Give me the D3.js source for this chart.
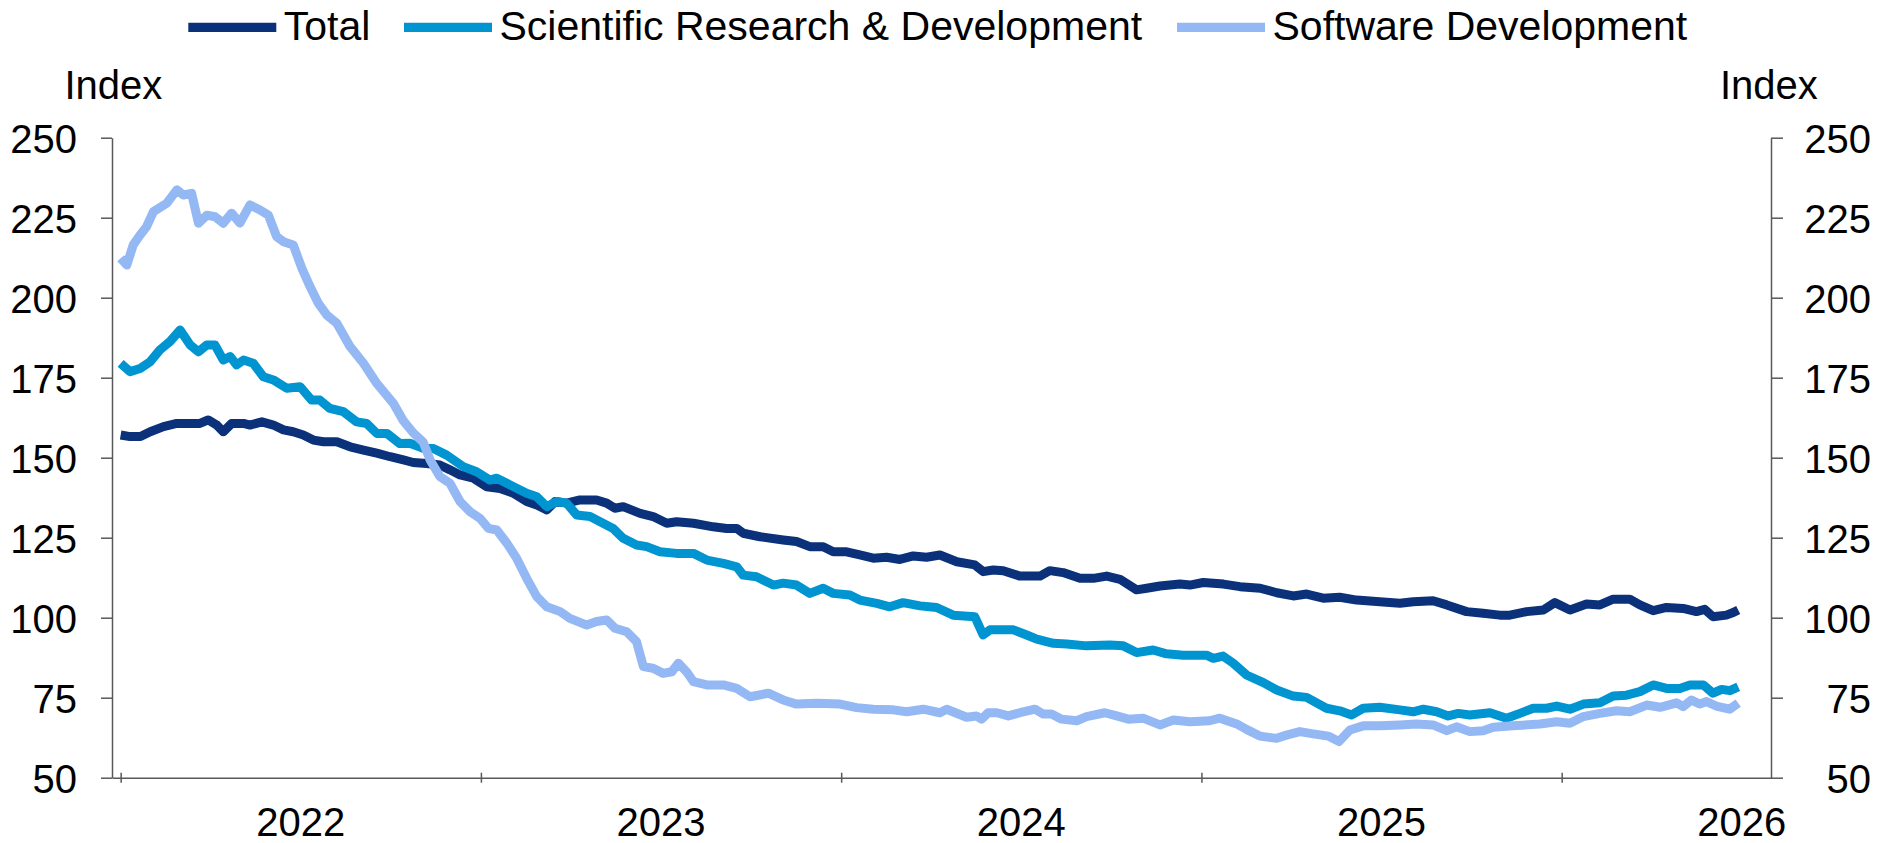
<!DOCTYPE html>
<html>
<head>
<meta charset="utf-8">
<script src="https://cdn.jsdelivr.net/npm/d3@7"></script>
<style>
  html, body { margin: 0; padding: 0; background: #fff; }
  svg { display: block; font-family: "Liberation Sans", Arial, sans-serif; }
</style>
</head>
<body>
<svg id="chart" width="1891" height="843"></svg>
<script>
// ---- Data (decimal-year positions and index values) ----
const yearTicks = [2022, 2023, 2024, 2025, 2026];
const yearLabels = ["2022", "2023", "2024", "2025", "2026"];
const yTicks = [50, 75, 100, 125, 150, 175, 200, 225, 250];
const seriesNames = ["Total", "Scientific Research & Development", "Software Development"];
const seriesColors = ["#0a3179", "#0094d1", "#94b8f3"];

const totalT = [2022.000,2022.026,2022.055,2022.082,2022.119,2022.156,2022.193,2022.220,2022.243,2022.267,2022.285,2022.308,2022.341,2022.359,2022.392,2022.424,2022.452,2022.479,2022.507,2022.535,2022.563,2022.600,2022.637,2022.674,2022.711,2022.748,2022.785,2022.812,2022.850,2022.886,2022.914,2022.942,2022.979,2023.016,2023.053,2023.090,2023.127,2023.155,2023.183,2023.206,2023.238,2023.275,2023.321,2023.349,2023.372,2023.395,2023.442,2023.478,2023.516,2023.543,2023.590,2023.645,2023.682,2023.710,2023.728,2023.775,2023.839,2023.876,2023.913,2023.950,2023.978,2024.015,2024.052,2024.089,2024.126,2024.163,2024.200,2024.237,2024.274,2024.321,2024.371,2024.394,2024.422,2024.450,2024.496,2024.552,2024.579,2024.616,2024.663,2024.700,2024.737,2024.774,2024.820,2024.848,2024.885,2024.940,2024.968,2025.005,2025.061,2025.107,2025.163,2025.209,2025.255,2025.292,2025.338,2025.384,2025.431,2025.495,2025.551,2025.588,2025.643,2025.681,2025.736,2025.782,2025.828,2025.856,2025.903,2025.949,2025.981,2026.023,2026.069,2026.106,2026.143,2026.189,2026.217,2026.254,2026.291,2026.337,2026.374,2026.397,2026.420,2026.457,2026.476,2026.490];
const totalV = [157.1,156.6,156.6,158.1,159.7,160.7,160.7,160.7,161.8,160.2,158.1,160.7,160.7,160.2,161.2,160.2,158.7,158.1,157.1,155.5,155,155,153.4,152.4,151.4,150.3,149.3,148.5,148.2,147.7,146.2,144.6,143.6,140.9,140.4,138.9,136.3,135.2,133.7,136.3,135.8,136.8,136.8,135.8,134.2,134.7,132.6,131.6,129.5,130,129.5,128.4,127.9,127.9,126.4,125.3,124.3,123.8,122.2,122.2,120.6,120.6,119.6,118.6,118.9,118.2,119.3,118.9,119.6,117.5,116.5,114.4,114.9,114.7,113,113,114.7,114.1,112.3,112.3,113,112,108.7,109.2,109.9,110.5,110.2,111,110.5,109.7,109.2,107.8,106.8,107.4,106.1,106.4,105.5,105,104.5,105,105.3,104,101.9,101.4,100.8,100.8,101.9,102.4,104.7,102.4,104.3,104,105.8,105.8,104,102.2,103.2,102.9,101.9,102.6,100.3,100.8,101.6,102.4];

const sciT = [2022.000,2022.026,2022.054,2022.082,2022.109,2022.137,2022.165,2022.193,2022.216,2022.239,2022.262,2022.285,2022.304,2022.322,2022.341,2022.368,2022.396,2022.424,2022.461,2022.498,2022.530,2022.553,2022.581,2022.618,2022.655,2022.683,2022.711,2022.739,2022.775,2022.803,2022.840,2022.868,2022.905,2022.951,2022.988,2023.025,2023.044,2023.081,2023.127,2023.155,2023.183,2023.210,2023.238,2023.266,2023.303,2023.331,2023.367,2023.395,2023.432,2023.460,2023.497,2023.543,2023.590,2023.627,2023.673,2023.710,2023.728,2023.765,2023.812,2023.839,2023.876,2023.913,2023.950,2023.978,2024.024,2024.052,2024.099,2024.135,2024.172,2024.219,2024.265,2024.311,2024.371,2024.394,2024.413,2024.478,2024.515,2024.543,2024.589,2024.626,2024.681,2024.746,2024.783,2024.820,2024.866,2024.903,2024.949,2025.014,2025.033,2025.060,2025.088,2025.125,2025.172,2025.209,2025.255,2025.292,2025.347,2025.384,2025.417,2025.449,2025.495,2025.551,2025.588,2025.616,2025.653,2025.685,2025.713,2025.745,2025.801,2025.847,2025.884,2025.921,2025.958,2025.986,2026.023,2026.060,2026.106,2026.143,2026.180,2026.217,2026.254,2026.291,2026.328,2026.356,2026.393,2026.420,2026.444,2026.467,2026.490];
const sciV = [179.5,176.9,177.9,180,183.7,186.3,189.9,185.2,183.1,185.2,185.2,180.5,181.6,179,180.5,179.5,175.3,174.3,171.7,172.2,168,168,165.4,164.4,161.2,160.7,157.6,157.6,154.4,154.5,152.9,152.9,150.8,147.2,145.6,143,143.6,141.5,138.9,137.8,134.7,136.3,135.8,132.1,131.6,130,127.9,124.8,122.7,122.2,120.6,120.1,120.1,118,117,115.9,113.3,112.8,110.2,110.8,110.2,107.6,109.2,107.6,107.1,105.5,104.5,103.4,104.7,103.7,103.2,100.8,100.3,94.6,96.2,96.2,94.6,93.3,92,91.8,91.2,91.5,91.2,89.1,89.9,88.7,88.3,88.3,87.3,88,85.8,82.1,79.7,77.4,75.5,75.1,71.7,70.9,69.6,71.7,72,71.2,70.6,71.4,70.6,69.3,70.1,69.6,70.3,68.6,70.1,71.7,71.7,72.4,71.4,73,73.4,75.5,75.8,76.9,79,77.9,77.9,79,79,76.4,77.6,77.2,78.4];

const softT = [2022.000,2022.017,2022.035,2022.054,2022.072,2022.091,2022.128,2022.156,2022.174,2022.197,2022.216,2022.239,2022.262,2022.285,2022.308,2022.331,2022.359,2022.387,2022.410,2022.433,2022.452,2022.479,2022.503,2022.526,2022.549,2022.572,2022.600,2022.637,2022.674,2022.711,2022.757,2022.785,2022.812,2022.840,2022.859,2022.886,2022.914,2022.942,2022.970,2022.997,2023.021,2023.044,2023.072,2023.099,2023.127,2023.155,2023.183,2023.220,2023.247,2023.294,2023.321,2023.349,2023.372,2023.405,2023.432,2023.451,2023.478,2023.506,2023.530,2023.548,2023.571,2023.590,2023.627,2023.673,2023.710,2023.747,2023.798,2023.839,2023.876,2023.932,2023.997,2024.043,2024.089,2024.145,2024.182,2024.228,2024.274,2024.293,2024.348,2024.376,2024.390,2024.408,2024.432,2024.464,2024.496,2024.538,2024.561,2024.584,2024.612,2024.654,2024.681,2024.732,2024.765,2024.797,2024.838,2024.885,2024.922,2024.968,2025.023,2025.051,2025.098,2025.125,2025.162,2025.209,2025.236,2025.273,2025.310,2025.352,2025.382,2025.412,2025.449,2025.495,2025.551,2025.597,2025.643,2025.681,2025.708,2025.745,2025.782,2025.810,2025.865,2025.939,2025.986,2026.023,2026.060,2026.106,2026.152,2026.189,2026.236,2026.273,2026.319,2026.337,2026.360,2026.383,2026.402,2026.429,2026.466,2026.490];
const softV = [212.3,210.2,216.5,219.6,222.2,226.9,229.5,233.7,232.1,232.6,223.3,225.8,225.3,223.3,226.4,223.3,229,227.4,225.8,219.1,217.5,216.5,209.2,203.4,198.2,194.6,192,184.7,179.5,173.2,167,161.5,157.8,154.8,149.3,144.1,142,136.3,133.1,131.1,127.9,127.4,123.3,118.6,112.3,106.6,103.4,101.9,99.8,97.7,98.8,99.3,96.7,95.6,92.5,84.7,84.2,82.6,83.1,85.8,83.1,80,79,79,77.9,75.3,76.4,74.3,73,73.3,73,71.9,71.4,71.2,70.6,71.4,70.3,71.4,68.9,69.3,68.3,70.3,70.3,69.3,70.3,71.4,69.9,69.9,68.3,67.8,69.1,70.3,69.3,68.3,68.6,66.5,68,67.5,67.8,68.6,66.8,65.1,63,62.3,63.3,64.4,63.7,63,61.3,64.9,66.2,66.2,66.5,66.8,66.5,64.7,65.9,64.4,64.7,65.8,66.2,66.8,67.5,67,69.1,70.1,70.9,70.6,72.7,72,73.4,72.2,74.3,73,73.8,72.4,71.4,73.3];

// ---- Layout ----
const svg = d3.select("#chart");
const plotLeft = 112, plotRight = 1771, plotTop = 137.7, plotBottom = 777.7;
const axisColor = "#595959";
const fontSize = 40;
const legendFontSize = 41;

const x = d3.scaleLinear().domain([2021.976, 2026.581]).range([plotLeft, plotRight]);
const y = d3.scaleLinear().domain([50, 250]).range([plotBottom, plotTop]);

// Left axis
const gL = svg.append("g").attr("transform", `translate(${plotLeft},0)`)
  .call(d3.axisLeft(y).tickValues(yTicks).tickSizeInner(11).tickSizeOuter(0).tickPadding(24).tickFormat(d3.format("d")));
// Right axis
const gR = svg.append("g").attr("transform", `translate(${plotRight},0)`)
  .call(d3.axisRight(y).tickValues(yTicks).tickSizeInner(12).tickSizeOuter(0).tickPadding(0).tickFormat(d3.format("d")));
gR.selectAll(".tick text").attr("x", 100).attr("text-anchor", "end");
// Bottom axis
const gB = svg.append("g").attr("transform", `translate(0,${plotBottom})`)
  .call(d3.axisBottom(x).tickValues(yearTicks).tickSizeInner(5).tickSizeOuter(0).tickFormat(""));
gB.selectAll(".tick line").attr("y1", -5).attr("y2", 5);

[gL, gR, gB].forEach(g => {
  g.selectAll("path.domain").attr("stroke", axisColor).attr("stroke-width", 1.5);
  g.selectAll(".tick line").attr("stroke", axisColor).attr("stroke-width", 1.5);
  g.selectAll(".tick text").attr("fill", "#000").style("font-size", fontSize + "px")
    .style("font-family", '"Liberation Sans", Arial, sans-serif').attr("dy", "0.36em");
});

// Year labels centered in each year
svg.append("g").selectAll("text").data(yearTicks).join("text")
  .attr("x", (d) => x(d + 0.5)).attr("y", 836)
  .attr("text-anchor", "middle").style("font-size", fontSize + "px").attr("fill", "#000")
  .text((d, i) => yearLabels[i]);

// Axis titles
svg.append("text").attr("x", 64.5).attr("y", 99).style("font-size", fontSize + "px").attr("fill", "#000").text("Index");
svg.append("text").attr("x", 1720).attr("y", 99).style("font-size", fontSize + "px").attr("fill", "#000").text("Index");

// Lines
const series = [
  d3.zip(totalT, totalV),
  d3.zip(sciT, sciV),
  d3.zip(softT, softV)
];
const line = d3.line().x(d => x(d[0])).y(d => y(d[1]));
svg.append("g").selectAll("path").data(series).join("path")
  .attr("d", line)
  .attr("fill", "none")
  .attr("stroke", (d, i) => seriesColors[i])
  .attr("stroke-width", 9)
  .attr("stroke-linejoin", "round")
  .attr("stroke-linecap", "butt");

// Legend
const legendX = [188.3, 404, 1177];
const lg = svg.append("g");
seriesNames.forEach((name, i) => {
  lg.append("line").attr("x1", legendX[i]).attr("x2", legendX[i] + 88)
    .attr("y1", 27.3).attr("y2", 27.3)
    .attr("stroke", seriesColors[i]).attr("stroke-width", 9.3);
  lg.append("text").attr("x", legendX[i] + 95.5).attr("y", 40)
    .style("font-size", legendFontSize + "px").attr("fill", "#000").text(name);
});
</script>
</body>
</html>
